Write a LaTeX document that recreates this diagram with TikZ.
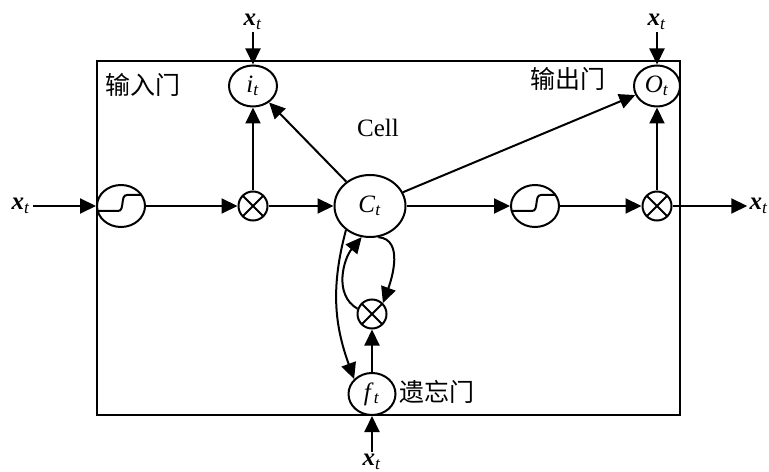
\documentclass[tikz,border=0pt]{standalone}
\usepackage{fontspec}
\setmainfont{Liberation Serif}
\newfontfamily\cjk{Noto Sans CJK SC}
\usetikzlibrary{arrows.meta,shapes.geometric}

% input symbol and gate labels
\newcommand\xt{\textbf{\textit{x}}\textsubscript{\textit{t}}}
\newcommand\gv[1]{\textit{#1}\textsubscript{\textit{t}}}

\tikzset{
  gate/.style={draw,ellipse,line width=1pt,inner sep=0pt,minimum width=24pt,minimum height=20.5pt},
  mult/.style={draw,circle,line width=1pt,minimum size=14.5pt,inner sep=0pt,
    path picture={\draw[line width=1pt]
      (path picture bounding box.north west) -- (path picture bounding box.south east)
      (path picture bounding box.north east) -- (path picture bounding box.south west);}},
  sigm/.style={gate,minimum height=21pt,
    path picture={\draw[line width=1pt] (path picture bounding box.center)
      ++(-12pt,-2.5pt) -- ++(10.5pt,0pt) to[out=0,in=180] ++(4.5pt,8pt) -- ++(9pt,0pt);}},
  arr/.style={-{Triangle[length=8pt,width=7.5pt]},line width=1pt},
  inp/.style={inner sep=1pt},
}

\begin{document}
\begin{tikzpicture}[x=0.5pt,y=0.5pt,font=\fontsize{12.5}{15}\selectfont]
\useasboundingbox (0,0) rectangle (769,471);
\draw[line width=1pt] (97,410) rectangle (680,56);

% main row
\node[sigm] (sig1) at (121,265) {};
\node[mult] (mul1) at (253,265) {};
\node[gate,minimum width=35.5pt,minimum height=31pt] (ct) at (370,265) {\gv{C}};
\node[sigm] (sig2) at (535,265) {};
\node[mult] (mul2) at (657,265) {};

% gates
\node[gate] (it) at (253,385) {\gv{i}};
\node[gate,minimum width=23pt] (ot) at (657,385) {\gv{O}};
\node[mult] (mul3) at (372,157) {};
\node[gate,minimum width=23.5pt,minimum height=21pt] (ft) at (372,77) {\gv{f}};

% inputs and output
\node[inp] (xl) at (21,265) {\xt};
\node[inp] (xr) at (759,265) {\xt};
\node[inp] (xi) at (253,449) {\xt};
\node[inp] (xo) at (657,449) {\xt};
\node[inp] (xf) at (372,9) {\xt};

% labels
\node (cell) at (378,343) {Cell};
\node (lin) at (143,386) {\cjk 输入门};
\node (lout) at (568,392) {\cjk 输出门};
\node (lfor) at (437,79) {\cjk 遗忘门};

% connections
\draw[arr] (xl) -- (sig1);
\draw[arr] (sig1) -- (mul1);
\draw[arr] (mul1) -- (ct);
\draw[arr] (mul1) -- (it);
\draw[arr] (xi) -- (it);
\draw[arr] (ct) -- (it);
\draw[arr] (ct) -- (ot);
\draw[arr] (ct) -- (sig2);
\draw[arr] (sig2) -- (mul2);
\draw[arr] (mul2) -- (ot);
\draw[arr] (xo) -- (ot);
\draw[arr] (mul2) -- (xr);
\draw[arr] (xf) -- (ft);
\draw[arr] (ft) -- (mul3);
\draw[arr] (ct.225) to[out=255,in=110] (ft.140);
\draw[arr] (mul3.160) to[out=150,in=230] (ct.255);
\draw[arr] (ct.285) to[out=-5,in=70] (mul3.45);
\end{tikzpicture}
\end{document}
